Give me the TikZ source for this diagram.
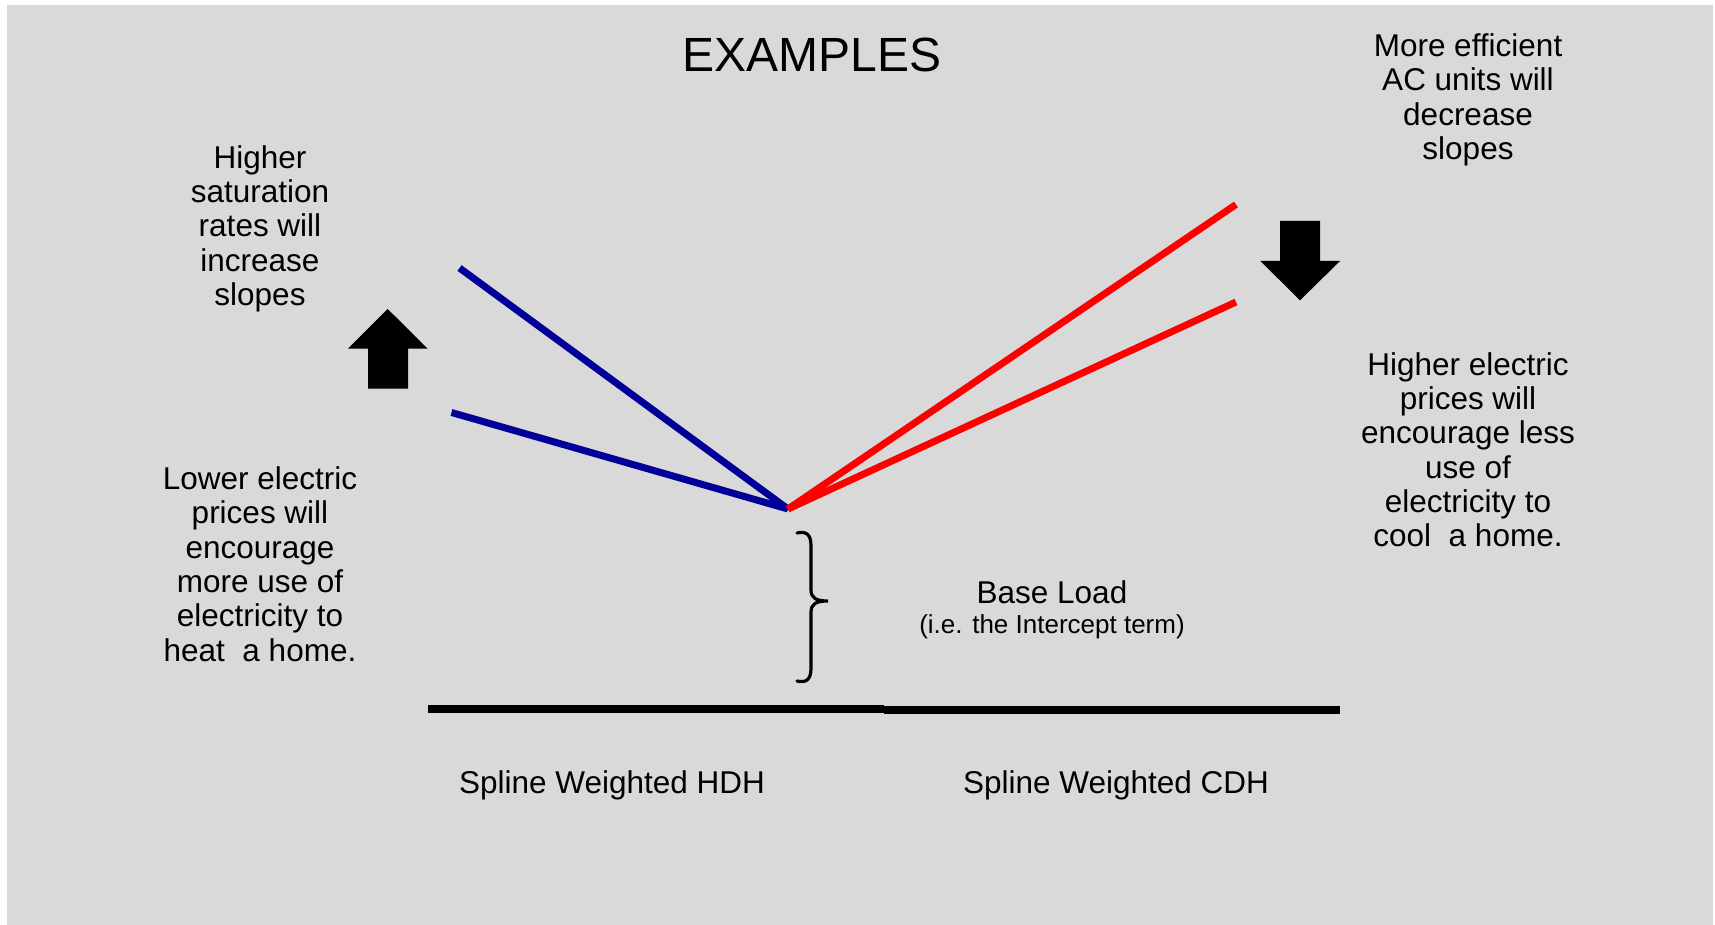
\documentclass[tikz,border=0pt]{standalone}
\usepackage{fontspec}
\setmainfont{Liberation Sans}
\definecolor{bg}{RGB}{217,217,217}
\definecolor{heatblue}{RGB}{0,0,153}
\definecolor{coolred}{RGB}{255,0,0}
\begin{document}
\begin{tikzpicture}[x=1pt,y=-1pt,
  txt/.style={align=center,inner sep=0pt,font=\fontsize{31.5}{34.3}\selectfont},
  heat/.style={draw=heatblue,line width=7pt},
  cool/.style={draw=coolred,line width=7pt},
  bigarrow/.style={fill=black},
  axis/.style={draw=black,line width=8.5pt},
  brace/.style={draw=black,line width=3.2pt,line cap=round}]
\useasboundingbox (0,0) rectangle (1715,925);
\fill[white] (0,0) rectangle (1715,925);
\fill[bg] (7,5) rectangle (1712.5,925);
% title
\node[inner sep=0pt,font=\fontsize{48}{55}\selectfont,anchor=base] (title) at (812,71.5) {EXAMPLES};
% text blocks (anchor base = baseline of last line)
\node[txt,anchor=base] (hsat) at (260,305.6) {Higher\\saturation\\rates will\\increase\\slopes};
\node[txt,anchor=base] (lowp) at (260,661) {Lower electric\\prices will\\encourage\\more use of\\electricity to\\heat\ \ a home.};
\node[txt,anchor=base] (moreff) at (1468,159.5) {More efficient\\AC units will\\decrease\\slopes};
\node[txt,anchor=base] (highp) at (1468,546.8) {Higher electric\\prices will\\encourage less\\use of\\electricity to\\cool\ \ a home.};
\node[txt,anchor=base] (base) at (1052,603.3) {Base Load};
\node[inner sep=0pt,anchor=base,font=\fontsize{26}{30}\selectfont] (intercept) at (1052,633.3) {(i.e. the Intercept term)};
\node[txt,anchor=base] (hdh) at (612,793.3) {Spline Weighted HDH};
\node[txt,anchor=base] (cdh) at (1116,793.3) {Spline Weighted CDH};
% lines
\coordinate (v) at (788,509);
\coordinate (bu) at (459.5,268);
\coordinate (bl) at (451.5,412.5);
\coordinate (ru) at (1236,204.5);
\coordinate (rl) at (1236,302);
\draw[heat] (bu) -- (v);
\draw[heat] (bl) -- (v);
\draw[cool] (v) -- (ru);
\draw[cool] (v) -- (rl);
% axis
\coordinate (axL) at (428,709);
\coordinate (axM) at (884,709);
\coordinate (axMr) at (884,710);
\coordinate (axR) at (1340,710);
\draw[axis] (axL) -- (axM);
\draw[axis] (axMr) -- (axR);
% block arrows
\fill[bigarrow] (368,388.7) -- (408,388.7) -- (408,348.7) -- (427.7,348.7) -- (387.7,309) -- (348,348.7) -- (368,348.7) -- cycle;
\fill[bigarrow] (1280,221) -- (1320,221) -- (1320,261) -- (1340,261) -- (1300,300.3) -- (1260.3,261) -- (1280,261) -- cycle;
% brace
\draw[brace] (797,533) .. controls (806,531) and (811,534) .. (811,546)
  -- (811,590) .. controls (811,598) and (816,601) .. (828,601)
  .. controls (816,601) and (811,604) .. (811,612)
  -- (811,668) .. controls (811,680) and (806,683) .. (797,681);
\end{tikzpicture}
\end{document}
